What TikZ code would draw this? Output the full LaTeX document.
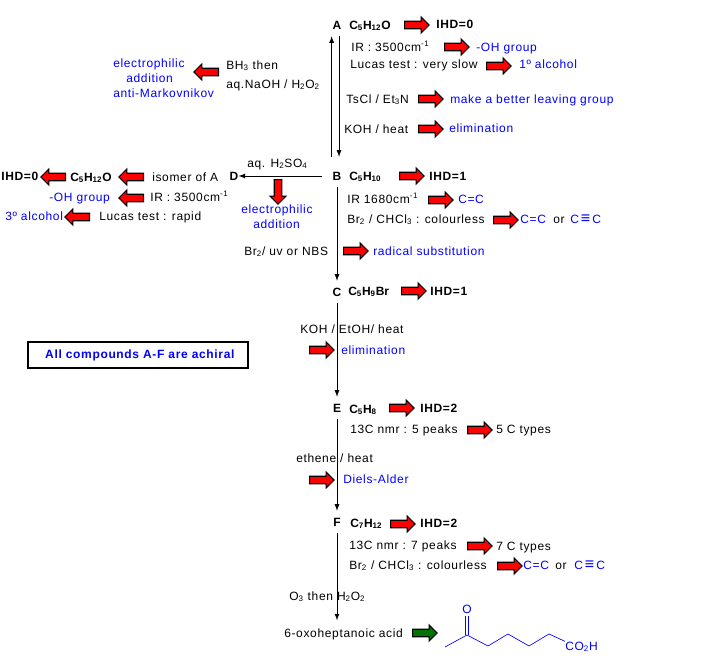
\documentclass[tikz,border=0pt]{standalone}
\usepackage{fontspec}
\setmainfont[LetterSpace=5.5]{Liberation Sans}
\newfontfamily\formulafont{Liberation Sans}
\usetikzlibrary{shapes.arrows, arrows}

\newcommand{\triplebond}{C\,{\fontsize{12}{12}\selectfont≡}\,C}

\tikzset{
    lbl/.style={anchor=west, inner sep=0pt, text height=6.6pt, text depth=1.5pt, font=\fontsize{9}{11}\selectfont},
    note/.style={lbl, text=blue},
    formula/.style={lbl, font=\fontsize{9}{11}\selectfont\formulafont\bfseries},
    ihd/.style={lbl, font=\fontsize{9}{11}\selectfont\bfseries},
    letter/.style={inner sep=0pt, minimum height=16.5pt, font=\fontsize{9}{11}\selectfont\bfseries},
    redarr/.style={single arrow, draw=black, fill=red, line width=0.8pt, inner xsep=0pt, inner ysep=2.4pt,
        minimum height=18.5pt, minimum width=12pt, single arrow head extend=3.2pt, single arrow tip angle=90},
    redarrL/.style={redarr, shape border rotate=180},
    redarrD/.style={redarr, rotate=-90},
    greenarr/.style={redarr, fill=green!45!black},
    rxn/.style={-latex, line width=0.7pt},
    skeleton/.style={draw=blue, line width=0.5pt}
}

\begin{document}
\begin{tikzpicture}[x=0.75pt, y=-0.75pt]
    \useasboundingbox (0,0) rectangle (704,660);

    % A
    \node[letter] (A) at (337,25) {A};
    \node[formula] (fA) at (349,26) {C\textsubscript{5}H\textsubscript{12}O};
    \node[redarr] (a1) at (415,25) {};
    \node[ihd] (ihdA) at (436,25) {IHD=0};
    \node[lbl] (irA) at (351,48) {IR : 3500cm\textsuperscript{-1}};
    \node[redarr] (a2) at (455,47) {};
    \node[note] (ohA) at (476,48) {-OH group};
    \node[lbl] (lucasA) at (350,65) {Lucas test : very slow};
    \node[redarr] (a3) at (497,66) {};
    \node[note] (alcA) at (519,65) {1º alcohol};
    \node[lbl] (tscl) at (346,100) {TsCl / Et\textsubscript{3}N};
    \node[redarr] (a4) at (429,99) {};
    \node[note] (leave) at (450,100) {make a better leaving group};
    \node[lbl] (koh) at (344,130) {KOH / heat};
    \node[redarr] (a5) at (429,129) {};
    \node[note] (elimA) at (449,129) {elimination};

    % hydroboration
    \node[note] (elec1) at (113,64) {electrophilic};
    \node[note] (add1) at (126,79) {addition};
    \node[note] (anti) at (113,94) {anti-Markovnikov};
    \node[redarrL] (a6) at (208,72) {};
    \node[lbl] (bh3) at (226,66) {BH\textsubscript{3} then};
    \node[lbl] (naoh) at (226,85) {aq.NaOH / H\textsubscript{2}O\textsubscript{2}};

    % B
    \node[letter] (B) at (337,176) {B};
    \node[formula] (fB) at (349,177) {C\textsubscript{5}H\textsubscript{10}};
    \node[redarr] (a7) at (410,176) {};
    \node[ihd] (ihdB) at (429,177) {IHD=1};
    \node[lbl] (irB) at (347,200) {IR 1680cm\textsuperscript{-1}};
    \node[redarr] (a8) at (439,200) {};
    \node[note] (ccB) at (458,200) {C=C};
    \node[lbl] (br2B) at (347,220) {Br\textsubscript{2} / CHCl\textsubscript{3} : colourless};
    \node[redarr] (a9) at (504,220) {};
    \node[note] (ccB2) at (520,220) {C=C};
    \node[lbl] (orB) at (553,220) {or};
    \node[note] (cccB) at (570,220) {\triplebond};
    \node[lbl] (nbs) at (244,252) {Br\textsubscript{2}/ uv or NBS};
    \node[redarr] (a10) at (354,251) {};
    \node[note] (rad) at (373,252) {radical substitution};

    % D
    \node[letter] (D) at (234,176) {D};
    \node[lbl] (h2so4) at (247,164) {aq. H\textsubscript{2}SO\textsubscript{4}};
    \node[redarrD] (a11) at (278,190) {};
    \node[note] (elec2) at (241,210) {electrophilic};
    \node[note] (add2) at (253,225) {addition};
    \node[lbl] (iso) at (152,178) {isomer of A};
    \node[redarrL] (a12) at (133,177) {};
    \node[formula] (fD) at (70,178) {C\textsubscript{5}H\textsubscript{12}O};
    \node[redarrL] (a13) at (55,177) {};
    \node[ihd] (ihdD) at (1,177) {IHD=0};
    \node[lbl] (irD) at (150,198) {IR : 3500cm\textsuperscript{-1}};
    \node[redarrL] (a14) at (133,198) {};
    \node[note] (ohD) at (49,198) {-OH group};
    \node[lbl] (lucasD) at (99,217) {Lucas test : rapid};
    \node[redarrL] (a15) at (79,217) {};
    \node[note] (alcD) at (5,217) {3º alcohol};

    % C
    \node[letter] (C) at (337,292) {C};
    \node[formula] (fC) at (348,292) {C\textsubscript{5}H\textsubscript{9}Br};
    \node[redarr] (a16) at (412,291) {};
    \node[ihd] (ihdC) at (430,292) {IHD=1};
    \node[lbl] (etoh) at (300,330) {KOH / EtOH/ heat};
    \node[redarr] (a17) at (320,350) {};
    \node[note] (elimC) at (341,351) {elimination};
    \node[draw=black, line width=1.5pt, minimum width=165pt, minimum height=19pt, inner sep=0pt,
        text=blue, font=\fontsize{9}{11}\selectfont\bfseries] (achiral) at (137.5,355) {\hspace*{3.5pt}All compounds A-F are achiral};

    % E
    \node[letter] (E) at (337,408) {E};
    \node[formula] (fE) at (349,410) {C\textsubscript{5}H\textsubscript{8}};
    \node[redarr] (a18) at (400,408) {};
    \node[ihd] (ihdE) at (420,409) {IHD=2};
    \node[lbl] (nmrE) at (350,430) {13C nmr : 5 peaks};
    \node[redarr] (a19) at (478,430) {};
    \node[lbl] (typesE) at (496,430) {5 C types};
    \node[lbl] (ethene) at (296,459) {ethene / heat};
    \node[redarr] (a20) at (320,480) {};
    \node[note] (diels) at (343,480) {Diels-Alder};

    % F
    \node[letter] (F) at (337,522) {F};
    \node[formula] (fF) at (350,524) {C\textsubscript{7}H\textsubscript{12}};
    \node[redarr] (a21) at (401,524) {};
    \node[ihd] (ihdF) at (420,524) {IHD=2};
    \node[lbl] (nmrF) at (349,546) {13C nmr : 7 peaks};
    \node[redarr] (a22) at (478,546) {};
    \node[lbl] (typesF) at (496,547) {7 C types};
    \node[lbl] (br2F) at (349,566) {Br\textsubscript{2} / CHCl\textsubscript{3} : colourless};
    \node[redarr] (a23) at (508,566) {};
    \node[note] (ccF) at (523,566) {C=C};
    \node[lbl] (orF) at (555,566) {or};
    \node[note] (cccF) at (574,566) {\triplebond};
    \node[lbl] (o3) at (289,597) {O\textsubscript{3} then H\textsubscript{2}O\textsubscript{2}};

    % acid
    \node[lbl] (acid) at (284,634) {6-oxoheptanoic acid};
    \node[greenarr] (a24) at (423,633) {};
    \node[note] (oxo) at (462,610) {O};
    \node[note] (co2h) at (565,647) {CO\textsubscript{2}H};

    \coordinate (c1) at (445,647);
    \coordinate (c2) at (467,635);
    \coordinate (c3) at (488,646);
    \coordinate (c4) at (508,634);
    \coordinate (c5) at (529,646);
    \coordinate (c6) at (549,634);
    \draw[skeleton] (c1) -- (c2) -- (c3) -- (c4) -- (c5) -- (c6) -- (co2h.north west);
    \draw[skeleton] ([xshift=-1.2pt]c2) -- ([xshift=-1.2pt]oxo.south -| c2);
    \draw[skeleton] ([xshift=1.2pt]c2) -- ([xshift=1.2pt]oxo.south -| c2);

    % reactions
    \draw[rxn, shorten <=6pt] ([xshift=-4pt]B.north) -- ([xshift=-4pt]A.south);
    \draw[rxn, shorten >=6pt] ([xshift=1.5pt]A.south) -- ([xshift=1.5pt]B.north);
    \draw[rxn, shorten <=8pt] (B) -- (D);
    \draw[rxn] (B) -- (C);
    \draw[rxn] (C) -- (E);
    \draw[rxn] (E) -- (F);
    \draw[rxn, shorten >=6pt] (F) -- (acid.north -| F);
\end{tikzpicture}
\end{document}
